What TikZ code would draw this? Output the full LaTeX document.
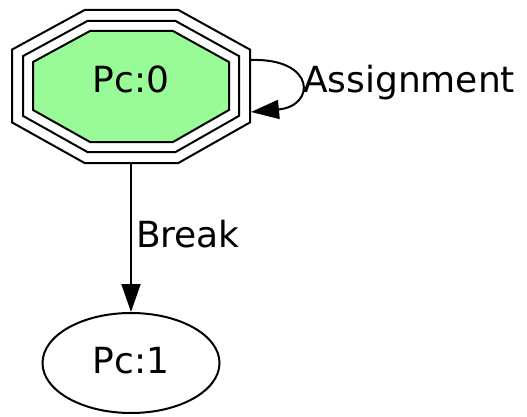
\documentclass[tikz,border=0pt]{standalone}
\usepackage{fontspec}
\setmainfont{DejaVu Sans}
\usetikzlibrary{arrows.meta,calc,shapes.geometric}
\definecolor{palegreen}{RGB}{152,251,152}
\begin{document}
\begin{tikzpicture}[x=1pt,y=-1pt,
  line width=2pt,
  lbl/.style={font=\fontsize{36}{43}\selectfont, inner sep=0pt},
  arr/.style={-{Triangle[length=28pt,width=19pt]}},
  oct/.style={line join=miter}]
\useasboundingbox (0,0) rectangle (527,417);
% octagon peripheries
\draw[oct] (84.6,10) -- (178.4,10) -- (250,49.6) -- (250,122.4) -- (178.4,163) -- (84.6,163) -- (12,122.4) -- (12,49.6) -- cycle;
\draw[oct] (87.4,21) -- (175.6,21) -- (239,56.1) -- (239,115.9) -- (175.6,152) -- (87.4,152) -- (23,115.9) -- (23,56.1) -- cycle;
\draw[oct, fill=palegreen] (90,31) -- (173,31) -- (229,62) -- (229,110) -- (173,142) -- (90,142) -- (33,110) -- (33,62) -- cycle;
\node[lbl, minimum width=238pt, minimum height=153pt, text height=26pt, text depth=13pt] (pc0) at (131,86.5) {Pc:0};
\node[lbl, ellipse, draw, minimum width=177pt, minimum height=100pt, text height=26pt, text depth=6pt] (pc1) at (131,363) {Pc:1};
\draw[arr] (pc0.south) -- (pc1.north);
\node[lbl, anchor=base west] (lbreak) at (135,247) {Break};
\draw[arr] ($(pc0.east)+(0,-26.5)$) .. controls (316,58) and (316,106) .. ($(pc0.east)+(0,25.5)$);
\node[lbl, anchor=base west] (lassign) at (302,93) {Assignment};
\end{tikzpicture}
\end{document}
